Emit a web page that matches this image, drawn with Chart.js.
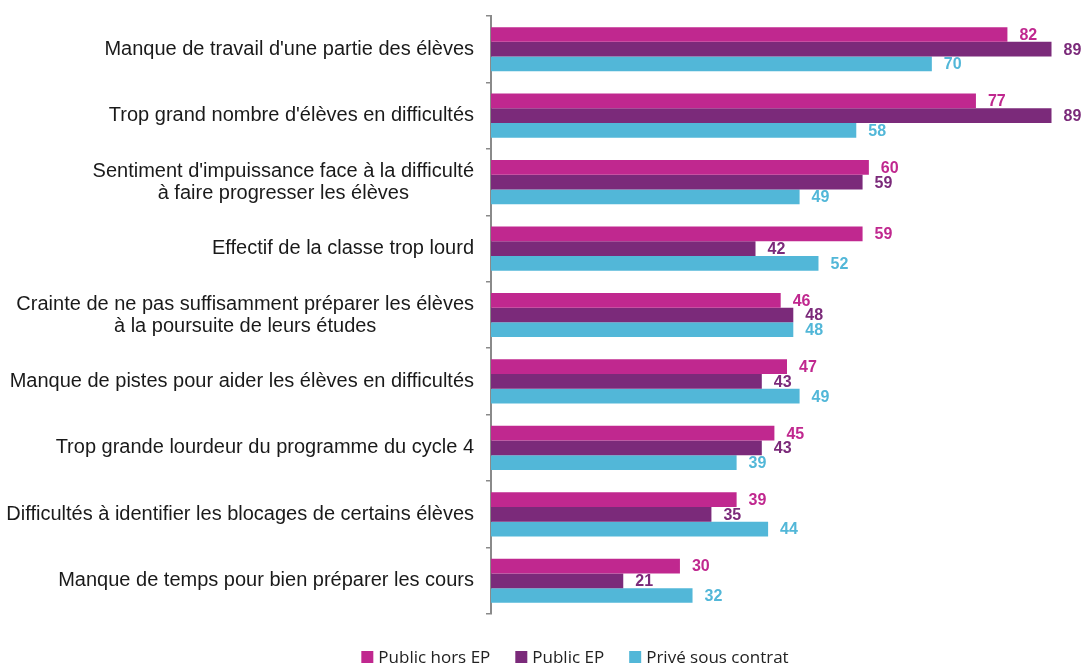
<!DOCTYPE html>
<html><head><meta charset="utf-8">
<script src="https://cdn.jsdelivr.net/npm/chart.js@4.4.0/dist/chart.umd.min.js"></script>
<style>html,body{margin:0;padding:0;background:#fff}#c{display:block}</style>
</head><body>
<canvas id="c" width="1085" height="666"></canvas>
<script>
const categories = [
  ["Manque de travail d'une partie des élèves"],
  ["Trop grand nombre d'élèves en difficultés"],
  ["Sentiment d'impuissance face à la difficulté", "à faire progresser les élèves"],
  ["Effectif de la classe trop lourd"],
  ["Crainte de ne pas suffisamment préparer les élèves", "à la poursuite de leurs études"],
  ["Manque de pistes pour aider les élèves en difficultés"],
  ["Trop grande lourdeur du programme du cycle 4"],
  ["Difficultés à identifier les blocages de certains élèves"],
  ["Manque de temps pour bien préparer les cours"]
];
const seriesNames = ["Public hors EP", "Public EP", "Privé sous contrat"];
const publicHorsEP = [82, 77, 60, 59, 46, 47, 45, 39, 30];
const publicEP = [89, 89, 59, 42, 48, 43, 43, 35, 21];
const priveSousContrat = [70, 58, 49, 52, 48, 49, 39, 44, 32];
const colors = ["#C0288F", "#7B2A7A", "#52B7D8"];

const labelPlugin = {
  id: 'labels',
  afterDraw(chart) {
    const ctx = chart.ctx;
    const yScale = chart.scales.y;
    const left = chart.chartArea.left;
    ctx.save();
    // category labels
    ctx.font = '20px "Liberation Sans", Arial, sans-serif';
    ctx.fillStyle = '#1a1a1a';
    ctx.textBaseline = 'middle';
    const right = left - 17;
    categories.forEach((lines, i) => {
      const cy = yScale.getPixelForValue(i);
      const lh = 22;
      const widths = lines.map(l => ctx.measureText(l).width);
      const maxW = Math.max(...widths);
      const center = right - maxW / 2;
      lines.forEach((l, j) => {
        const y = cy + (j - (lines.length - 1) / 2) * lh;
        ctx.textAlign = 'center';
        ctx.fillText(l, center, y);
      });
    });
    // value labels
    ctx.font = 'bold 16px "Liberation Sans", Arial, sans-serif';
    ctx.textAlign = 'left';
    chart.data.datasets.forEach((ds, di) => {
      const meta = chart.getDatasetMeta(di);
      meta.data.forEach((bar, i) => {
        ctx.fillStyle = ds.backgroundColor;
        ctx.fillText(String(ds.data[i]), bar.x + 12, bar.y + 1);
      });
    });
    // legend
    ctx.font = '17px "Open Sans", "Noto Sans", sans-serif';
    ctx.textBaseline = 'middle';
    const ly = 657;
    const box = 12, gapText = 5, gapItem = 25;
    const widthsL = seriesNames.map(n => ctx.measureText(n).width);
    const total = widthsL.reduce((a, w) => a + box + gapText + w, 0) + gapItem * (seriesNames.length - 1);
    let x = 575 - total / 2;
    seriesNames.forEach((n, i) => {
      ctx.fillStyle = colors[i];
      ctx.fillRect(x, ly - box / 2, box, box);
      x += box + gapText;
      ctx.fillStyle = '#222';
      ctx.textAlign = 'left';
      ctx.fillText(n, x, ly + 1);
      x += widthsL[i] + gapItem;
    });
    ctx.restore();
  }
};

new Chart(document.getElementById('c'), {
  type: 'bar',
  data: {
    labels: categories.map(c => c.join(' ')),
    datasets: [
      { label: seriesNames[0], data: publicHorsEP, backgroundColor: colors[0] },
      { label: seriesNames[1], data: publicEP, backgroundColor: colors[1] },
      { label: seriesNames[2], data: priveSousContrat, backgroundColor: colors[2] }
    ]
  },
  options: {
    indexAxis: 'y',
    responsive: false,
    animation: false,
    layout: { padding: { top: 16, bottom: 52, right: 2 } },
    datasets: { bar: { categoryPercentage: 0.665, barPercentage: 1.0, borderWidth: 0 } },
    plugins: { legend: { display: false }, tooltip: { enabled: false } },
    scales: {
      x: { display: false, min: 0, max: 94 },
      y: {
        afterFit: (s) => { s.width = 491; },
        ticks: { display: false },
        grid: { drawOnChartArea: false, drawTicks: true, tickLength: 5, color: '#8a8a8a', lineWidth: 1.5, offset: true },
        border: { display: true, color: '#8a8a8a', width: 2 }
      }
    }
  },
  plugins: [labelPlugin]
});
</script>
</body></html>
